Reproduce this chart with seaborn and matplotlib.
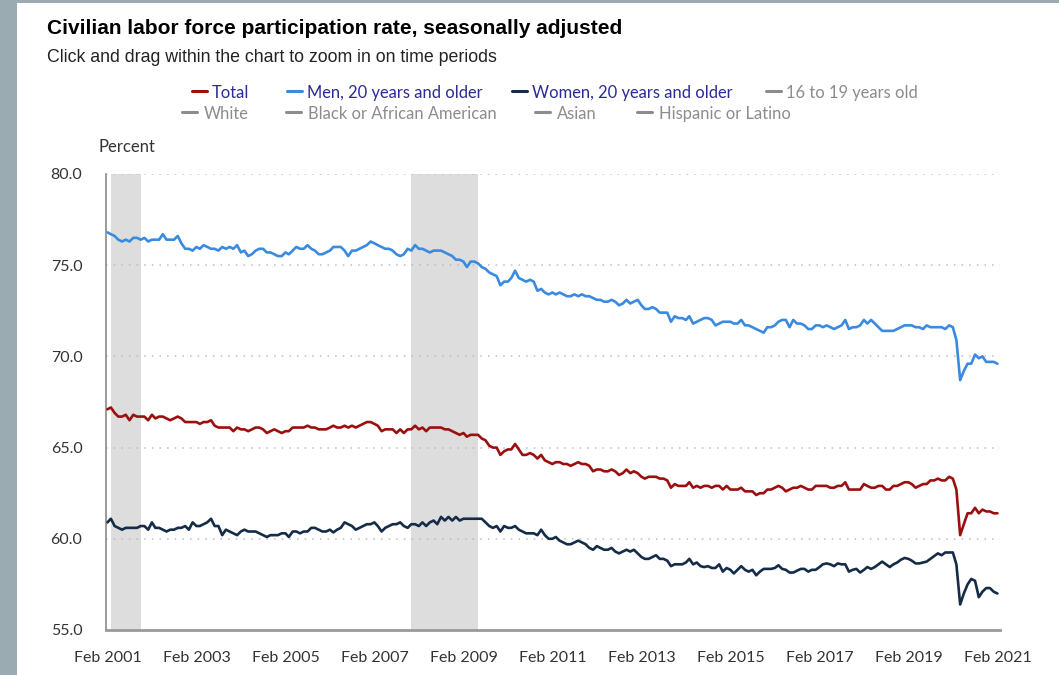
import numpy as np
import pandas as pd
import seaborn as sns
import matplotlib.pyplot as plt
import matplotlib.dates as mdates
from matplotlib.lines import Line2D
from matplotlib.patches import Rectangle

# monthly values, Feb 2001 .. Feb 2021 (percent)
first_month = "2001-02-01"

total = [
    67.1, 67.2, 66.9, 66.7, 66.7, 66.8, 66.5, 66.8, 66.7, 66.7, 66.7,          # 2001 (Feb-Dec)
    66.5, 66.8, 66.6, 66.7, 66.7, 66.6, 66.5, 66.6, 66.7, 66.6, 66.4, 66.4,    # 2002
    66.4, 66.4, 66.3, 66.4, 66.4, 66.5, 66.2, 66.1, 66.1, 66.1, 66.1, 65.9,    # 2003
    66.1, 66.0, 66.0, 65.9, 66.0, 66.1, 66.1, 66.0, 65.8, 65.9, 66.0, 65.9,    # 2004
    65.8, 65.9, 65.9, 66.1, 66.1, 66.1, 66.1, 66.2, 66.1, 66.1, 66.0, 66.0,    # 2005
    66.0, 66.1, 66.2, 66.1, 66.1, 66.2, 66.1, 66.2, 66.1, 66.2, 66.3, 66.4,    # 2006
    66.4, 66.3, 66.2, 65.9, 66.0, 66.0, 66.0, 65.8, 66.0, 65.8, 66.0, 66.0,    # 2007
    66.2, 66.0, 66.1, 65.9, 66.1, 66.1, 66.1, 66.1, 66.0, 66.0, 65.9, 65.8,    # 2008
    65.7, 65.8, 65.6, 65.7, 65.7, 65.7, 65.5, 65.4, 65.1, 65.0, 65.0, 64.6,    # 2009
    64.8, 64.9, 64.9, 65.2, 64.9, 64.6, 64.6, 64.7, 64.6, 64.4, 64.6, 64.3,    # 2010
    64.2, 64.1, 64.2, 64.2, 64.1, 64.1, 64.0, 64.1, 64.2, 64.1, 64.1, 64.0,    # 2011
    63.7, 63.8, 63.8, 63.7, 63.7, 63.8, 63.7, 63.5, 63.6, 63.8, 63.6, 63.7,    # 2012
    63.6, 63.4, 63.3, 63.4, 63.4, 63.4, 63.3, 63.3, 63.2, 62.8, 63.0, 62.9,    # 2013
    62.9, 62.9, 63.1, 62.8, 62.9, 62.8, 62.9, 62.9, 62.8, 62.9, 62.9, 62.7,    # 2014
    62.9, 62.7, 62.7, 62.7, 62.8, 62.6, 62.6, 62.6, 62.4, 62.5, 62.5, 62.7,    # 2015
    62.7, 62.8, 62.9, 62.8, 62.6, 62.7, 62.8, 62.8, 62.9, 62.8, 62.7, 62.7,    # 2016
    62.9, 62.9, 62.9, 62.9, 62.8, 62.8, 62.9, 62.9, 63.1, 62.7, 62.7, 62.7,    # 2017
    62.7, 63.0, 62.9, 62.8, 62.8, 62.9, 62.9, 62.7, 62.7, 62.9, 62.9, 63.0,    # 2018
    63.1, 63.1, 63.0, 62.8, 62.9, 63.0, 63.0, 63.2, 63.2, 63.3, 63.2, 63.2,    # 2019
    63.4, 63.3, 62.7, 60.2, 60.8, 61.4, 61.4, 61.7, 61.4, 61.6, 61.5, 61.5,    # 2020
    61.4, 61.4,                                                                # 2021
]

men = [
    76.8, 76.7, 76.6, 76.4, 76.3, 76.4, 76.3, 76.5, 76.5, 76.4, 76.5,          # 2001
    76.3, 76.4, 76.4, 76.4, 76.7, 76.4, 76.4, 76.4, 76.6, 76.2, 75.9, 75.9,    # 2002
    75.8, 76.0, 75.9, 76.1, 76.0, 75.9, 75.9, 75.8, 76.0, 75.9, 76.0, 75.9,    # 2003
    76.1, 75.7, 75.8, 75.5, 75.6, 75.8, 75.9, 75.9, 75.7, 75.7, 75.6, 75.5,    # 2004
    75.5, 75.7, 75.6, 75.8, 76.0, 75.9, 75.9, 76.1, 75.9, 75.8, 75.6, 75.6,    # 2005
    75.7, 75.8, 76.0, 76.0, 76.0, 75.8, 75.5, 75.8, 75.8, 75.9, 76.0, 76.1,    # 2006
    76.3, 76.2, 76.1, 76.0, 75.9, 75.9, 75.8, 75.6, 75.5, 75.6, 75.9, 75.8,    # 2007
    76.1, 75.9, 75.9, 75.8, 75.7, 75.8, 75.8, 75.8, 75.7, 75.6, 75.5, 75.3,    # 2008
    75.3, 75.2, 74.9, 75.2, 75.2, 75.1, 74.9, 74.8, 74.6, 74.5, 74.4, 73.9,    # 2009
    74.1, 74.1, 74.3, 74.7, 74.3, 74.2, 74.1, 74.2, 74.1, 73.6, 73.7, 73.5,    # 2010
    73.4, 73.5, 73.4, 73.5, 73.4, 73.3, 73.3, 73.4, 73.3, 73.4, 73.3, 73.3,    # 2011
    73.2, 73.1, 73.1, 73.0, 73.0, 73.1, 73.0, 72.8, 72.9, 73.1, 72.9, 73.0,    # 2012
    73.1, 72.8, 72.6, 72.6, 72.7, 72.6, 72.4, 72.4, 72.4, 71.9, 72.2, 72.1,    # 2013
    72.1, 72.0, 72.2, 71.8, 71.9, 72.0, 72.1, 72.1, 72.0, 71.7, 71.8, 71.9,    # 2014
    71.9, 71.9, 71.8, 71.8, 72.0, 71.7, 71.7, 71.6, 71.5, 71.4, 71.3, 71.6,    # 2015
    71.6, 71.7, 71.9, 72.0, 72.0, 71.6, 72.0, 71.8, 71.8, 71.7, 71.5, 71.5,    # 2016
    71.7, 71.7, 71.6, 71.7, 71.6, 71.5, 71.6, 71.7, 72.0, 71.5, 71.6, 71.6,    # 2017
    71.7, 72.0, 71.8, 72.0, 71.8, 71.6, 71.4, 71.4, 71.4, 71.4, 71.5, 71.6,    # 2018
    71.7, 71.7, 71.7, 71.6, 71.6, 71.5, 71.7, 71.6, 71.6, 71.6, 71.6, 71.5,    # 2019
    71.7, 71.6, 70.9, 68.7, 69.2, 69.6, 69.6, 70.1, 69.9, 70.0, 69.7, 69.7,    # 2020
    69.7, 69.6,                                                                # 2021
]

women = [
    60.9, 61.1, 60.7, 60.6, 60.5, 60.6, 60.6, 60.6, 60.6, 60.7, 60.7,          # 2001
    60.5, 60.9, 60.6, 60.6, 60.5, 60.4, 60.5, 60.5, 60.6, 60.6, 60.7, 60.5,    # 2002
    60.9, 60.7, 60.7, 60.8, 60.9, 61.1, 60.7, 60.7, 60.2, 60.5, 60.4, 60.3,    # 2003
    60.2, 60.4, 60.5, 60.4, 60.4, 60.4, 60.3, 60.2, 60.1, 60.2, 60.2, 60.2,    # 2004
    60.3, 60.3, 60.1, 60.4, 60.4, 60.3, 60.4, 60.4, 60.6, 60.6, 60.5, 60.4,    # 2005
    60.4, 60.5, 60.35, 60.5, 60.6, 60.9, 60.8, 60.7, 60.5, 60.6, 60.7, 60.8,   # 2006
    60.8, 60.9, 60.7, 60.4, 60.6, 60.7, 60.8, 60.8, 60.9, 60.7, 60.6, 60.8,    # 2007
    60.8, 60.7, 60.9, 60.7, 60.9, 61.0, 60.8, 61.2, 61.0, 61.2, 61.0, 61.2,    # 2008
    61.0, 61.1, 61.1, 61.1, 61.1, 61.1, 61.1, 60.9, 60.7, 60.6, 60.7, 60.4,    # 2009
    60.7, 60.6, 60.6, 60.7, 60.5, 60.4, 60.3, 60.3, 60.3, 60.2, 60.5, 60.2,    # 2010
    60.0, 60.0, 60.1, 59.9, 59.8, 59.7, 59.7, 59.8, 59.9, 59.8, 59.7, 59.5,    # 2011
    59.4, 59.6, 59.5, 59.4, 59.4, 59.5, 59.3, 59.2, 59.3, 59.4, 59.3, 59.4,    # 2012
    59.2, 59.0, 58.9, 58.9, 59.0, 59.1, 58.9, 58.9, 58.8, 58.5, 58.6, 58.6,    # 2013
    58.6, 58.7, 58.9, 58.6, 58.7, 58.5, 58.45, 58.5, 58.4, 58.4, 58.6, 58.2,   # 2014
    58.4, 58.3, 58.1, 58.3, 58.5, 58.3, 58.2, 58.3, 58.0, 58.2, 58.35, 58.35,  # 2015
    58.35, 58.4, 58.55, 58.35, 58.3, 58.15, 58.15, 58.25, 58.35, 58.35, 58.2, 58.3,  # 2016
    58.3, 58.45, 58.6, 58.65, 58.6, 58.5, 58.65, 58.6, 58.6, 58.2, 58.3, 58.35,      # 2017
    58.15, 58.3, 58.45, 58.35, 58.45, 58.6, 58.75, 58.6, 58.45, 58.6, 58.7, 58.85,   # 2018
    58.95, 58.9, 58.8, 58.65, 58.65, 58.7, 58.75, 58.9, 59.05, 59.2, 59.1, 59.25,    # 2019
    59.25, 59.25, 58.6, 56.4, 57.0, 57.5, 57.8, 57.7, 56.8, 57.1, 57.3, 57.3,        # 2020
    57.1, 57.0,                                                                      # 2021
]

series_names = ["Total", "Men, 20 years and older", "Women, 20 years and older"]
series_colors = ["#9c0f0f", "#3a8ae0", "#142c48"]

recession_start = ["2001-03-01", "2007-12-01"]
recession_end = ["2001-11-01", "2009-06-01"]

legend_row1 = ["Total", "Men, 20 years and older", "Women, 20 years and older", "16 to 19 years old"]
legend_row2 = ["White", "Black or African American", "Asian", "Hispanic or Latino"]

dates = pd.date_range(first_month, periods=len(total), freq="MS")
df = pd.DataFrame({"date": dates, series_names[0]: total,
                   series_names[1]: men, series_names[2]: women})
long = df.melt(id_vars="date", var_name="series", value_name="rate")

sns.set_style("white")
plt.rcParams["font.family"] = ["Lato", "DejaVu Sans"]

W, H = 1059, 675
fig = plt.figure(figsize=(W / 100, H / 100), dpi=100)
fig.patch.set_facecolor("#9babb2")
fig.add_artist(Rectangle((17 / W, 0), 1 - 17 / W, 1 - 3 / H, transform=fig.transFigure,
                         facecolor="white", edgecolor="none", zorder=-5))

ax = fig.add_axes([106 / W, 1 - 630 / H, (1000 - 106) / W, (630 - 174) / H])

for s, e in zip(recession_start, recession_end):
    ax.axvspan(pd.Timestamp(s), pd.Timestamp(e), color="#dddddd", lw=0, zorder=0)

sns.lineplot(data=long, x="date", y="rate", hue="series", hue_order=series_names,
             palette=dict(zip(series_names, series_colors)), linewidth=1.9,
             legend=False, ax=ax, zorder=3)

ax.set_xlim(pd.Timestamp("2001-01-20"), pd.Timestamp("2021-02-22"))
ax.set_ylim(55, 80)
ax.set_yticks(np.arange(55, 80.1, 5))
ax.yaxis.set_major_formatter(plt.FuncFormatter(lambda v, p: f"{v:.1f}"))
ax.set_xticks(pd.date_range("2001-02-01", "2021-02-01", freq="24MS"))
ax.xaxis.set_major_formatter(mdates.DateFormatter("%b %Y"))
ax.set_xlabel("")
ax.set_ylabel("")

ax.yaxis.grid(True, linestyle=(0, (1, 4)), color="#bdbdbd", linewidth=1.1)
ax.set_axisbelow(True)
for sp in ["top", "right"]:
    ax.spines[sp].set_visible(False)
ax.spines["left"].set_color("#8a8a8a")
ax.spines["left"].set_linewidth(1.2)
ax.spines["bottom"].set_color("#999999")
ax.spines["bottom"].set_linewidth(2)

ax.tick_params(axis="y", length=14, width=1, color="#ccd6eb", labelsize=11.5,
               labelcolor="#333333", pad=3)
ax.tick_params(axis="x", length=0, labelsize=11.5, labelcolor="#333333", pad=15)

# titles
fig.text(47 / W, 1 - 28 / H, "Civilian labor force participation rate, seasonally adjusted",
         fontsize=15, fontweight="bold", family="Liberation Sans", color="#000000", va="center")
fig.text(47 / W, 1 - 58 / H, "Click and drag within the chart to zoom in on time periods",
         fontsize=12.8, family="Liberation Sans", color="#222222", va="center")
fig.text(99 / W, 1 - 147 / H, "Percent", fontsize=12, color="#333333", va="center")

# legend (Highcharts style, two rows)
active = "#2b2b98"
inactive = "#8c8c8c"
row1_x = [192, 287, 512, 766]
row2_x = [182, 286, 535, 637]
row1_col = series_colors + ["#8c8c8c"]
for i, (lab, x0) in enumerate(zip(legend_row1, row1_x)):
    y = 1 - 91 / H
    fig.add_artist(Line2D([x0 / W, (x0 + 15) / W], [y, y], transform=fig.transFigure,
                          color=row1_col[i], lw=2.2))
    fig.text((x0 + 20) / W, y - 2 / H, lab, fontsize=11.9, va="center",
             color=active if i < 3 else inactive)
for lab, x0 in zip(legend_row2, row2_x):
    y = 1 - 112 / H
    fig.add_artist(Line2D([x0 / W, (x0 + 15) / W], [y, y], transform=fig.transFigure,
                          color="#8c8c8c", lw=2.2))
    fig.text((x0 + 22) / W, y - 2 / H, lab, fontsize=11.9, va="center", color=inactive)

fig.savefig("out.png", dpi=100)
